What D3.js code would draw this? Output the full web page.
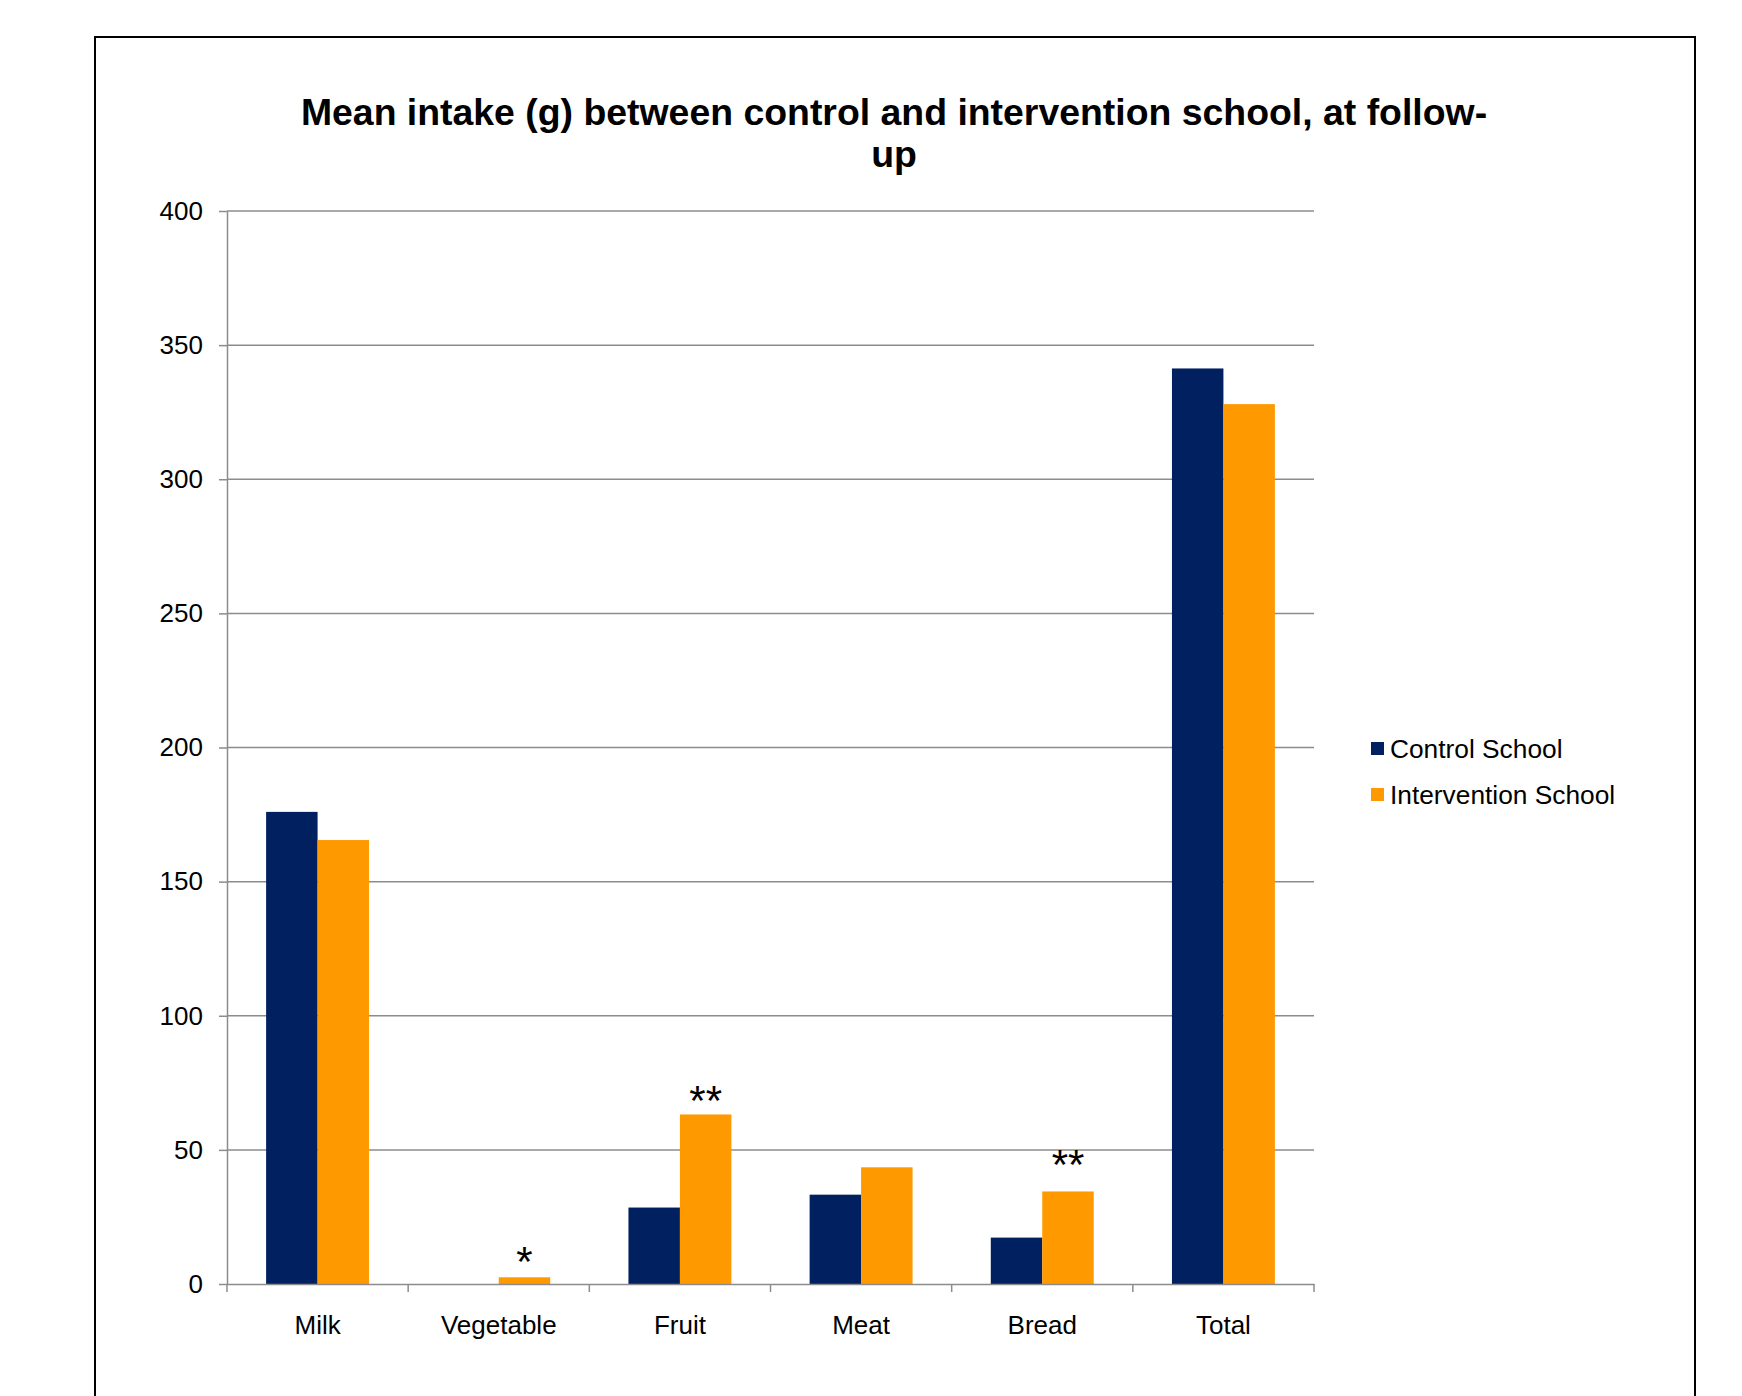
<!DOCTYPE html>
<html><head><meta charset="utf-8">
<script src="https://cdn.jsdelivr.net/npm/d3@7"></script>
<style>html,body{margin:0;padding:0;background:#fff;}</style>
</head><body>
<svg id="chart" width="1742" height="1396"></svg>
<script>
const categories = ["Milk", "Vegetable", "Fruit", "Meat", "Bread", "Total"];
const seriesNames = ["Control School", "Intervention School"];
const controlValues = [176, 0, 28.5, 33.3, 17.3, 341.3];
const interventionValues = [165.5, 2.5, 63.2, 43.5, 34.5, 328];
const significance = ["", "*", "**", "", "**", ""];
const significanceLevel = [0, 11.8, 72, 0, 48, 0];
const yTicks = [0, 50, 100, 150, 200, 250, 300, 350, 400];
const titleLines = ["Mean intake (g) between control and intervention school, at follow-", "up"];

const colors = ["#002060", "#FF9900"];
const font = "'Liberation Sans', Arial, sans-serif";
const svg = d3.select("#chart").style("font-family", font);

svg.append("rect").attr("x", 95).attr("y", 37).attr("width", 1600).attr("height", 1400)
  .attr("fill", "#fff").attr("stroke", "#000").attr("stroke-width", 2);

const L = 227, R = 1314, T = 211, B = 1284;
const x = d3.scaleBand().domain(categories).range([L, R]).paddingInner(0).paddingOuter(0);
const xs = d3.scaleBand().domain(seriesNames).range([0, x.bandwidth()]).paddingInner(0).paddingOuter(0.76);
const y = d3.scaleLinear().domain([0, 400]).range([B, T]);

// title
svg.append("text").attr("x", 894).attr("y", 125).attr("text-anchor", "middle")
  .attr("font-size", 37.4).attr("font-weight", "bold").attr("fill", "#000")
  .selectAll("tspan").data(titleLines).join("tspan")
  .attr("x", 894).attr("dy", (d, i) => i === 0 ? 0 : 42).text(d => d);

// gridlines
const gridColor = "#8c8c8c";
svg.append("g").selectAll("line").data(yTicks.filter(t => t > 0)).join("line")
  .attr("x1", L).attr("x2", R).attr("y1", d => y(d)).attr("y2", d => y(d))
  .attr("stroke", gridColor).attr("stroke-width", 1.5);

// y axis
const yAxis = svg.append("g").attr("transform", `translate(${L},0)`)
  .call(d3.axisLeft(y).tickValues(yTicks).tickSize(8).tickPadding(16).tickSizeOuter(0));
yAxis.select(".domain").attr("stroke", gridColor).attr("stroke-width", 1.5);
yAxis.selectAll(".tick line").attr("stroke", gridColor).attr("stroke-width", 1.5);
yAxis.selectAll(".tick text").attr("font-size", 26).attr("font-family", font).attr("fill", "#000");

// bars
const data = categories.map((c, i) => ({cat: c, vals: [controlValues[i], interventionValues[i]]}));
const groups = svg.append("g").selectAll("g").data(data).join("g")
  .attr("transform", d => `translate(${x(d.cat)},0)`);
groups.selectAll("rect").data(d => d.vals.map((v, j) => ({s: seriesNames[j], v, j}))).join("rect")
  .filter(d => d.v > 0)
  .attr("x", d => xs(d.s)).attr("width", xs.bandwidth())
  .attr("y", d => y(d.v)).attr("height", d => B - y(d.v))
  .attr("fill", d => colors[d.j]);

// x axis
const xAxis = svg.append("g").attr("transform", `translate(0,${B})`)
  .call(d3.axisBottom(x).tickSize(0).tickPadding(32));
xAxis.select(".domain").attr("stroke", gridColor).attr("stroke-width", 1.5);
xAxis.selectAll(".tick text").attr("font-size", 26).attr("font-family", font).attr("fill", "#000");
// category boundary ticks
const bounds = categories.map(c => x(c)).concat([R]);
svg.append("g").selectAll("line").data(bounds).join("line")
  .attr("x1", d => d).attr("x2", d => d).attr("y1", B).attr("y2", B + 8)
  .attr("stroke", gridColor).attr("stroke-width", 1.5);

// significance markers
svg.append("g").selectAll("text").data(categories.map((c, i) => ({c, s: significance[i], lv: significanceLevel[i]})).filter(d => d.s))
  .join("text")
  .attr("x", d => x(d.c) + xs(seriesNames[1]) + xs.bandwidth() / 2)
  .attr("y", d => y(d.lv) + 24)
  .attr("text-anchor", "middle").attr("font-size", 42).attr("fill", "#000")
  .text(d => d.s);

// legend
const lg = svg.append("g").selectAll("g").data(seriesNames).join("g")
  .attr("transform", (d, i) => `translate(1371,${742 + i * 46})`);
lg.append("rect").attr("width", 13).attr("height", 13).attr("fill", (d, i) => colors[i]);
lg.append("text").attr("x", 19).attr("y", 16).attr("font-size", 26.3).attr("fill", "#000").text(d => d);
</script>
</body></html>
